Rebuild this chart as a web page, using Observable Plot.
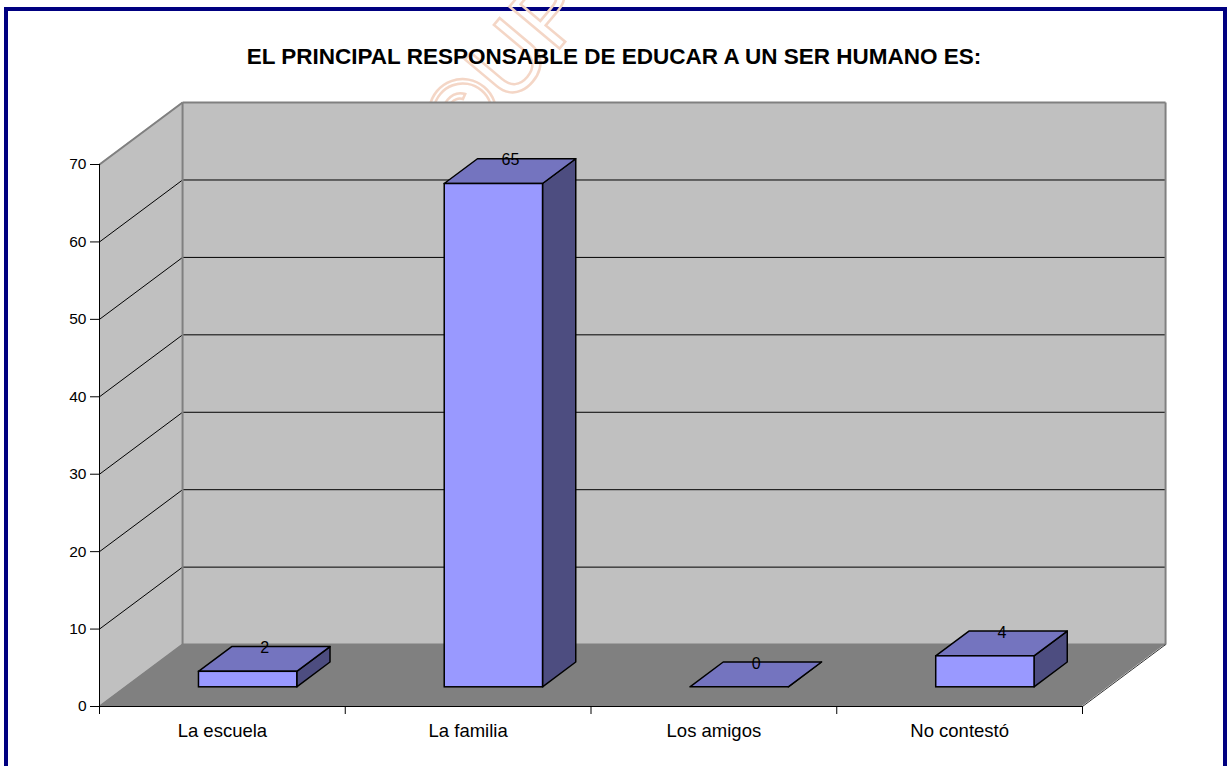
<!DOCTYPE html>
<html>
<head>
<meta charset="utf-8">
<script src="https://cdn.jsdelivr.net/npm/d3@7"></script>
<script src="https://cdn.jsdelivr.net/npm/@observablehq/plot@0.6"></script>
<style>
  html, body { margin: 0; padding: 0; background: #fff; width: 1228px; height: 766px; overflow: hidden;
    font-family: "Liberation Sans", Arial, sans-serif; }
  #frame { position: absolute; left: 4px; top: 7px; width: 1215px; height: 820px; border: 4px solid #000080; }
  #wm { position: absolute; left: 404px; top: 12px; width: 202px; height: 100px; line-height: 100px; text-align: center;
    font-size: 95px; color: transparent; -webkit-text-stroke: 2.5px #f4d6c6; transform: rotate(-50deg);
    transform-origin: center center; white-space: nowrap; font-family: "Liberation Sans", Arial, sans-serif; }
  #title { position: absolute; left: 0; top: 46px; width: 1228px; text-align: center; font-weight: bold;
    font-size: 22.5px; line-height: 22px; color: #000; }
  #chart { position: absolute; left: 0; top: 80px; }
</style>
</head>
<body>
<div id="frame"></div>
<div id="wm">©UP</div>
<div id="title">EL PRINCIPAL RESPONSABLE DE EDUCAR A UN SER HUMANO ES:</div>
<div id="chart"></div>
<script>
// ---- data ----
const categories = ["La escuela", "La familia", "Los amigos", "No contestó"];
const values = [2, 65, 0, 4];
const yTicks = [0, 10, 20, 30, 40, 50, 60, 70];

// ---- 3D (oblique) geometry, in data units ----
const nCat = categories.length;
const yMax = 70;
const dX = 0.338;   // depth offset along x (category units)
const dY = 8.0;     // depth offset along y (value units)
const z0 = 0.31, z1 = 0.71; // bar depth range (fraction of full depth)
const bw = 0.2;     // half bar width (category units)

const gridVals = yTicks.filter(t => t > 0 && t < yMax);

const bars = values.map((v, i) => ({i, v, cat: categories[i]}));
const px = (b, z) => ({l: b.i + 0.5 - bw + z * dX, r: b.i + 0.5 + bw + z * dX});

const frontFaces = bars.map(b => ({id: b.i, x1: px(b, z0).l, x2: px(b, z0).r, y1: z0 * dY, y2: b.v + z0 * dY}));
const topFaces = bars.flatMap(b => [
  {id: b.i, y: b.v + z0 * dY, x1: px(b, z0).l, x2: px(b, z0).r},
  {id: b.i, y: b.v + z1 * dY, x1: px(b, z1).l, x2: px(b, z1).r}
]);
const sideFaces = bars.flatMap(b => [
  {id: b.i, x: px(b, z0).r, y1: z0 * dY, y2: b.v + z0 * dY},
  {id: b.i, x: px(b, z1).r, y1: z1 * dY, y2: b.v + z1 * dY}
]);
const labels = bars.map(b => ({x: b.i + 0.5 + (z0 + z1) / 2 * dX, y: b.v + z1 * dY, t: String(b.v)}));

const backWall = [{x1: dX, x2: nCat + dX, y1: dY, y2: yMax + dY}];
const leftWall = [{x: 0, y1: 0, y2: yMax}, {x: dX, y1: dY, y2: yMax + dY}];
const floor = [{y: 0, x1: 0, x2: nCat}, {y: dY, x1: dX, x2: nCat + dX}];
const backGrid = gridVals.map(g => ({y: g + dY, x1: dX, x2: nCat + dX}));
const sideGrid = gridVals.map(g => ({x1: 0, y1: g, x2: dX, y2: g + dY}));
const wallEdges = [
  {x1: 0, y1: yMax, x2: dX, y2: yMax + dY},
  {x1: dX, y1: yMax + dY, x2: nCat + dX, y2: yMax + dY},
  {x1: nCat + dX, y1: dY, x2: nCat + dX, y2: yMax + dY},
  {x1: dX, y1: dY, x2: dX, y2: yMax + dY},
  {x1: dX, y1: dY, x2: nCat + dX, y2: dY},
  {x1: 0, y1: 0, x2: dX, y2: dY}
];
const floorEdge = [{x1: nCat, y1: 0, x2: nCat + dX, y2: dY}];
const yAxisLine = [{x: 0, y1: 0, y2: yMax}];
const xAxisLine = [{y: 0, x1: 0, x2: nCat}];

const font = "Liberation Sans, Arial, sans-serif";

const chart = Plot.plot({
  width: 1228,
  height: 686,
  marginLeft: 99,
  marginRight: 146,
  marginTop: 84,
  marginBottom: 60,
  style: {background: "transparent", fontFamily: font, color: "#000", fontSize: "15px"},
  x: {domain: [0, nCat], axis: null},
  y: {domain: [0, yMax], axis: null},
  marks: [
    Plot.rect(backWall, {x1: "x1", x2: "x2", y1: "y1", y2: "y2", fill: "#c0c0c0"}),
    Plot.areaY(leftWall, {x: "x", y1: "y1", y2: "y2", fill: "#c0c0c0", curve: "linear"}),
    Plot.areaX(floor, {y: "y", x1: "x1", x2: "x2", fill: "#808080", curve: "linear"}),
    Plot.ruleY(backGrid, {y: "y", x1: "x1", x2: "x2", stroke: "#000", strokeWidth: 1}),
    Plot.link(sideGrid, {x1: "x1", y1: "y1", x2: "x2", y2: "y2", stroke: "#000", strokeWidth: 1}),
    Plot.link(wallEdges, {x1: "x1", y1: "y1", x2: "x2", y2: "y2", stroke: "#808080", strokeWidth: 2}),
    Plot.link(floorEdge, {x1: "x1", y1: "y1", x2: "x2", y2: "y2", stroke: "#333", strokeWidth: 1}),
    // bars: side, top, front
    Plot.areaY(sideFaces, {x: "x", y1: "y1", y2: "y2", z: "id", fill: "#4d4d80", stroke: "#000", strokeWidth: 1.5, curve: "linear"}),
    Plot.areaX(topFaces, {y: "y", x1: "x1", x2: "x2", z: "id", fill: "#7474bf", stroke: "#000", strokeWidth: 1.5, curve: "linear"}),
    Plot.rect(frontFaces, {x1: "x1", x2: "x2", y1: "y1", y2: "y2", fill: "#9999ff", stroke: "#000", strokeWidth: 1.5}),
    Plot.text(labels, {x: "x", y: "y", text: "t", fontSize: 16, fill: "#000", lineAnchor: "middle", dy: 1}),
    // axes
    Plot.ruleX(yAxisLine, {x: "x", y1: "y1", y2: "y2", stroke: "#000", strokeWidth: 1}),
    Plot.ruleY(xAxisLine, {y: "y", x1: "x1", x2: "x2", stroke: "#000", strokeWidth: 1}),
    Plot.axisY({ticks: yTicks, tickSize: 9, tickPadding: 4, fontSize: 15.5, tickFormat: d => String(d)}),
    Plot.axisX({ticks: d3.range(nCat + 1), tickSize: 8, tickFormat: () => ""}),
    Plot.axisX({ticks: d3.range(nCat).map(i => i + 0.5), tickSize: 0, tickPadding: 17, fontSize: 18.5,
      tickFormat: d => categories[Math.floor(d)]})
  ]
});
document.getElementById("chart").appendChild(chart);
</script>
</body>
</html>
